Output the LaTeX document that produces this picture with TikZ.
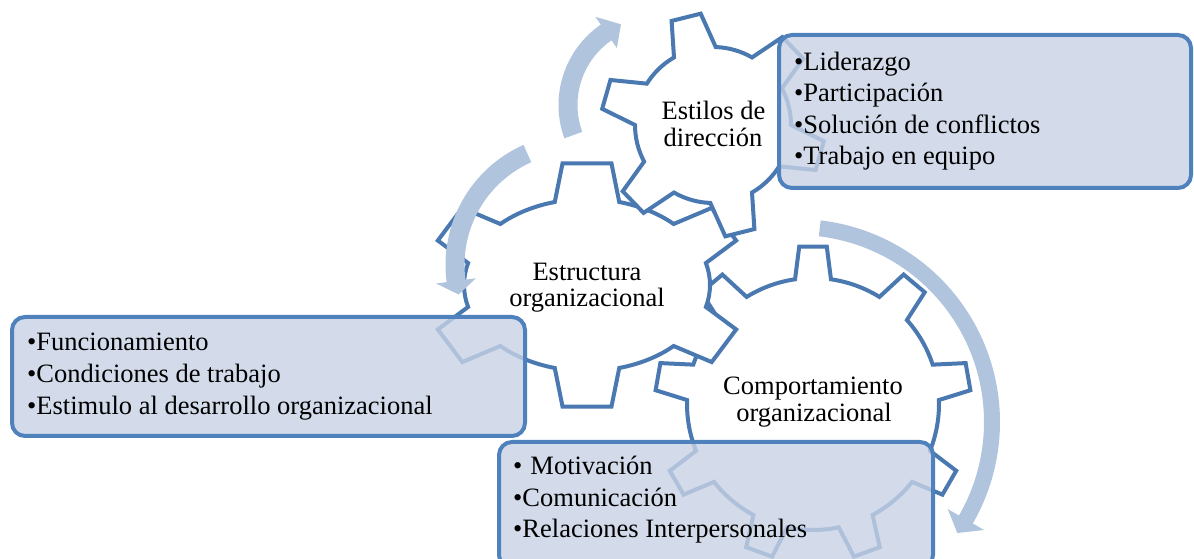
\documentclass[tikz,border=0pt]{standalone}
\usepackage{fontspec}
\setmainfont{Liberation Serif}
\definecolor{gearline}{RGB}{74,120,176}
\definecolor{boxline}{RGB}{79,129,189}
\definecolor{boxfill}{RGB}{200,210,229}
\definecolor{arrowfill}{RGB}{177,196,222}
\tikzset{
  gearstyle/.style={draw=gearline, line width=4pt, fill=white, line join=miter},
  arrowstyle/.style={fill=arrowfill},
  listbox/.style={draw=boxline, line width=4pt, fill=boxfill, fill opacity=0.8, draw opacity=1, rounded corners=13pt, inner sep=0pt},
  geartext/.style={anchor=base, inner sep=0pt, font=\fontsize{26.5}{30}\selectfont},
  listtext/.style={anchor=base west, inner sep=0pt, font=\fontsize{26.5}{30}\selectfont},
}
% cx, cy, Rx, Ry, tooth height, N, rotation, tip half-angle, base half-angle
\newcommand\mygear[9]{%
  \pgfmathsetmacro\gRx{#3}\pgfmathsetmacro\gRy{#4}%
  \pgfmathsetmacro\grx{#3-#5}\pgfmathsetmacro\gry{#4-#5}%
  \pgfmathsetmacro\gstep{360/#6}%
  \pgfmathsetmacro\gfirst{#7-#9}%
  \draw[gearstyle,shift={(#1,#2)}] ({\grx*cos(\gfirst)},{\gry*sin(\gfirst)})
    foreach \k [evaluate=\k as \ta using {#7+(\k-1)*\gstep},
                evaluate=\k as \sa using {#7+(\k-1)*\gstep+#9},
                evaluate=\k as \ea using {#7+\k*\gstep-#9}] in {1,...,#6} {
      -- ({\gRx*cos(\ta-#8)},{\gRy*sin(\ta-#8)})
      -- ({\gRx*cos(\ta+#8)},{\gRy*sin(\ta+#8)})
      -- ({\grx*cos(\sa)},{\gry*sin(\sa)})
      arc[start angle=\sa, end angle=\ea, x radius=\grx, y radius=\gry]
    } -- cycle;
}
% cx, cy, r, width, start angle, body end angle, tip angle, head half-width
\newcommand\myarrow[8]{%
  \pgfmathsetmacro\aro{#3+#4/2}\pgfmathsetmacro\ari{#3-#4/2}%
  \pgfmathsetmacro\aho{#3+#8}\pgfmathsetmacro\ahi{#3-#8}%
  \fill[arrowstyle,shift={(#1,#2)}] (#5:\aro) arc[start angle=#5, end angle=#6, radius=\aro]
    -- (#6:\aho) -- (#7:#3) -- (#6:\ahi) -- (#6:\ari)
    arc[start angle=#6, end angle=#5, radius=\ari] -- cycle;
}
\begin{document}
\begin{tikzpicture}[x=1pt,y=1pt]
\useasboundingbox (0,0) rectangle (1194,559);
\clip (0,0) rectangle (1194,559);
% gears
\mygear{813}{155}{158}{158}{32}{9}{90}{5}{8.2}
\mygear{587}{274}{160}{123}{37}{6}{90}{8.8}{15.2}
\mygear{713}{434}{112}{112}{34}{6}{104}{7.7}{16}
% circular arrows
\myarrow{656}{454}{88}{19}{200}{124.5}{113.5}{19}
\myarrow{577}{294}{122}{19}{114}{187.5}{194}{20}
\myarrow{797}{137}{195}{16}{83.3}{-30}{-34.7}{21}
% list boxes
\node[listbox, minimum width=412pt, minimum height=153pt] (box1) at (985,447.5) {};
\node[listbox, minimum width=513pt, minimum height=119pt] (box2) at (268.5,182.5) {};
\node[listbox, minimum width=434pt, minimum height=126pt] (box3) at (716,54) {};
% gear labels
\node[geartext] (g2a) at (713.5,439) {Estilos de};
\node[geartext] (g2b) at (713,412.3) {dirección};
\node[geartext] (g1a) at (587,278) {Estructura};
\node[geartext] (g1b) at (587,252) {organizacional};
\node[geartext] (g3a) at (813,164) {Comportamiento};
\node[geartext] (g3b) at (814,137.3) {organizacional};
% list texts
\node[listtext] (l1a) at (794,488.5) {•Liderazgo};
\node[listtext] (l1b) at (794,457) {•Participación};
\node[listtext] (l1c) at (794,425.5) {•Solución de conflictos};
\node[listtext] (l1d) at (794,394) {•Trabajo en equipo};
\node[listtext] (l2a) at (27,208.5) {•Funcionamiento};
\node[listtext] (l2b) at (27,176.5) {•Condiciones de trabajo};
\node[listtext] (l2c) at (27,144.5) {•Estimulo al desarrollo organizacional};
\node[listtext] (l3a) at (513,84) {•\hspace{8pt}Motivación};
\node[listtext] (l3b) at (513,52.5) {•Comunicación};
\node[listtext] (l3c) at (513,21) {•Relaciones Interpersonales};
\end{tikzpicture}
\end{document}
